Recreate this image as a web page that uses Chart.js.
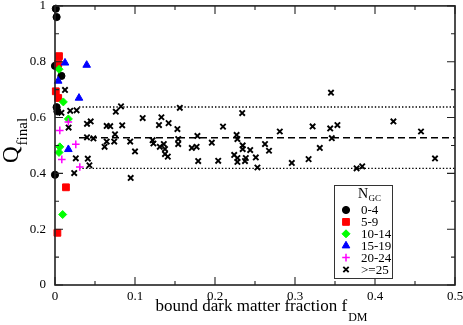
<!DOCTYPE html>
<html><head><meta charset="utf-8">
<script src="https://cdn.jsdelivr.net/npm/chart.js@4/dist/chart.umd.min.js"></script>
<style>html,body{margin:0;padding:0;background:#fff}#wrap{width:463px;height:325px}</style>
</head><body><div id="wrap"><canvas id="c" width="463" height="325"></canvas></div>
<script>
// ---- data (x = bound dark matter fraction f_DM, y = Q_final) ----
const legendLabels = ['0-4', '5-9', '10-14', '15-19', '20-24', '>=25'];
const ngc0to4 = [[0.001,0.99],[0.002,0.96],[0.0,0.785],[0.008,0.749],[0.002,0.637],[0.003,0.622],[0.0,0.395]];
const ngc5to9 = [[0.005,0.82],[0.004,0.793],[0.001,0.694],[0.004,0.67],[0.0137,0.35],[0.003,0.187]];
const ngc10to14 = [[0.005,0.773],[0.0104,0.656],[0.0167,0.595],[0.006,0.495],[0.005,0.475],[0.0096,0.2525]];
const ngc15to19 = [[0.0125,0.796],[0.0396,0.788],[0.004,0.731],[0.03,0.67],[0.0167,0.486]];
const ngc20to24 = [[0.0167,0.584],[0.006,0.554],[0.026,0.504],[0.0085,0.45],[0.031,0.423]];
const ngc25plus = [
 [0.0125,0.699],[0.008,0.617],[0.019,0.624],[0.027,0.626],[0.017,0.564],[0.04,0.5775],[0.0446,0.586],
 [0.04,0.529],[0.048,0.525],[0.026,0.454],[0.041,0.4525],[0.043,0.429],[0.024,0.401],[0.0946,0.3836],
 [0.0825,0.64],[0.076,0.621],[0.0646,0.57],[0.069,0.569],[0.084,0.572],[0.1096,0.598],[0.075,0.54],
 [0.0646,0.514],[0.074,0.514],[0.062,0.495],[0.094,0.514],[0.1,0.4786],[0.122,0.519],[0.123,0.507],
 [0.131,0.495],[0.136,0.505],[0.1375,0.487],[0.1375,0.469],[0.141,0.46],[0.154,0.523],[0.154,0.505],
 [0.171,0.491],[0.156,0.635],[0.133,0.601],[0.13,0.573],[0.142,0.58],[0.153,0.5586],[0.21,0.5675],
 [0.234,0.616],[0.281,0.55],[0.178,0.534],[0.227,0.5375],[0.228,0.523],[0.196,0.51],[0.177,0.495],
 [0.2346,0.5],[0.2346,0.487],[0.244,0.4836],[0.2625,0.505],[0.2675,0.481],[0.179,0.444],[0.204,0.445],
 [0.224,0.466],[0.228,0.455],[0.228,0.441],[0.2385,0.455],[0.2375,0.444],[0.251,0.457],[0.253,0.421],
 [0.296,0.4375],[0.317,0.451],[0.345,0.689],[0.322,0.568],[0.344,0.561],[0.353,0.573],[0.346,0.526],
 [0.423,0.586],[0.4575,0.55],[0.331,0.491],[0.377,0.418],[0.384,0.425],[0.475,0.4536]
];
const meanQ = 0.528;
const upperQ = 0.638;
const lowerQ = 0.418;
const refLineX = [0.03, 0.5];
const xTickValues = [0, 0.1, 0.2, 0.3, 0.4, 0.5];
const yTickValues = [0, 0.2, 0.4, 0.6, 0.8, 1];

const FONT = "'Liberation Serif','Times New Roman',serif";
const pts = a => a.map(p => ({x: p[0], y: p[1]}));
const hline = (yv) => refLineX.map(xv => ({x: xv, y: yv}));

const styles = [
  {pointStyle:'circle', radius:3.6, color:'#000000', bw:1},
  {pointStyle:'rect', radius:4.8, color:'#ff0000', bw:1},
  {pointStyle:'rectRot', radius:4.0, color:'#00ff00', bw:1},
  {pointStyle:'triangle', radius:4.4, color:'#0000ff', bw:1},
  {pointStyle:'cross', radius:3.8, color:'#ff00ff', bw:1.5},
  {pointStyle:'crossRot', radius:3.8, color:'#000000', bw:1.9}
];
const groups = [ngc0to4, ngc5to9, ngc10to14, ngc15to19, ngc20to24, ngc25plus];

const datasets = groups.map((g, i) => ({
  type: 'scatter', label: legendLabels[i], data: pts(g),
  pointStyle: styles[i].pointStyle, pointRadius: styles[i].radius,
  backgroundColor: styles[i].color, borderColor: styles[i].color,
  pointBorderWidth: styles[i].bw, clip: false, order: 5 - i
}));
datasets.push(
  {type:'line', label:'mean', data:hline(meanQ), borderColor:'#000', borderWidth:1.5, borderDash:[7,4], pointRadius:0, order:20, fill:false},
  {type:'line', label:'upper', data:hline(upperQ), borderColor:'#000', borderWidth:1.4, borderDash:[1.4,2], pointRadius:0, order:20, fill:false},
  {type:'line', label:'lower', data:hline(lowerQ), borderColor:'#000', borderWidth:1.4, borderDash:[1.4,2], pointRadius:0, order:20, fill:false}
);

function drawMarker(ctx, st, x, y) {
  ctx.save();
  ctx.fillStyle = st.color; ctx.strokeStyle = st.color; ctx.lineWidth = st.bw;
  const r = st.radius;
  ctx.beginPath();
  if (st.pointStyle === 'circle') { ctx.arc(x, y, r, 0, Math.PI*2); ctx.fill(); ctx.stroke(); }
  else if (st.pointStyle === 'rect') { const s = Math.SQRT1_2*r; ctx.rect(x-s, y-s, 2*s, 2*s); ctx.fill(); ctx.stroke(); }
  else if (st.pointStyle === 'rectRot') { ctx.moveTo(x-r,y); ctx.lineTo(x,y-r); ctx.lineTo(x+r,y); ctx.lineTo(x,y+r); ctx.closePath(); ctx.fill(); ctx.stroke(); }
  else if (st.pointStyle === 'triangle') {
    const s = r*Math.sqrt(3);
    ctx.moveTo(x, y - r); ctx.lineTo(x + s/2, y + r/2); ctx.lineTo(x - s/2, y + r/2); ctx.closePath(); ctx.fill(); ctx.stroke(); }
  else if (st.pointStyle === 'cross') { ctx.moveTo(x-r,y); ctx.lineTo(x+r,y); ctx.moveTo(x,y-r); ctx.lineTo(x,y+r); ctx.stroke(); }
  else { const o = r*Math.SQRT1_2; ctx.moveTo(x-o,y-o); ctx.lineTo(x+o,y+o); ctx.moveTo(x+o,y-o); ctx.lineTo(x-o,y+o); ctx.stroke(); }
  ctx.restore();
}

const decor = {
  id: 'decor',
  afterDraw(chart) {
    const {ctx, chartArea: a, scales: {x, y}} = chart;
    ctx.save();
    // ticks (inward, all four sides)
    ctx.strokeStyle = '#222'; ctx.lineWidth = 1.1;
    ctx.beginPath();
    for (let i = 0; i <= 10; i++) {
      const px = x.getPixelForValue(i * 0.05), L = i % 2 === 0 ? 8 : 4;
      ctx.moveTo(px, a.bottom); ctx.lineTo(px, a.bottom - L);
      ctx.moveTo(px, a.top); ctx.lineTo(px, a.top + L);
    }
    for (let i = 0; i <= 10; i++) {
      const py = y.getPixelForValue(i * 0.1), L = i % 2 === 0 ? 8 : 4;
      ctx.moveTo(a.left, py); ctx.lineTo(a.left + L, py);
      ctx.moveTo(a.right, py); ctx.lineTo(a.right - L, py);
    }
    ctx.stroke();
    ctx.lineWidth = 1.6;
    ctx.strokeRect(a.left, a.top, a.right - a.left, a.bottom - a.top);

    // x title with subscript
    ctx.fillStyle = '#000'; ctx.textBaseline = 'alphabetic'; ctx.textAlign = 'left';
    const main = 'bound dark matter fraction f', sub = 'DM';
    ctx.font = `17px ${FONT}`; const w1 = ctx.measureText(main).width;
    ctx.font = `12px ${FONT}`; const w2 = ctx.measureText(sub).width;
    const sx = 261 - (w1 + w2) / 2;
    ctx.font = `17px ${FONT}`; ctx.fillText(main, sx, 311);
    ctx.font = `12px ${FONT}`; ctx.fillText(sub, sx + w1 + 1, 321);

    // y title rotated with subscript
    ctx.save();
    ctx.translate(18, 163); ctx.rotate(-Math.PI / 2);
    ctx.font = `23px ${FONT}`; ctx.fillText('Q', 0, 0);
    const wq = ctx.measureText('Q').width;
    ctx.font = `15px ${FONT}`; ctx.fillText('final', wq + 1, 9);
    ctx.restore();

    // legend
    const lx = 334, ly = 185, lw = 58, lh = 93;
    ctx.fillStyle = '#fff'; ctx.fillRect(lx, ly, lw, lh);
    ctx.strokeStyle = '#333'; ctx.lineWidth = 1; ctx.strokeRect(lx + 0.5, ly + 0.5, lw, lh);
    ctx.fillStyle = '#000';
    ctx.font = `14px ${FONT}`; ctx.fillText('N', 358, 198);
    const wn = ctx.measureText('N').width;
    ctx.font = `9px ${FONT}`; ctx.fillText('GC', 358 + wn + 0.5, 201);
    ctx.font = `13px ${FONT}`; ctx.textBaseline = 'middle';
    for (let i = 0; i < 6; i++) {
      const ry = 210 + i * 11.9;
      drawMarker(ctx, styles[i], 346, ry);
      ctx.fillStyle = '#000';
      ctx.fillText(legendLabels[i], 361, ry + 1);
    }
    ctx.restore();
  }
};

new Chart(document.getElementById('c'), {
  type: 'scatter',
  data: { datasets },
  options: {
    responsive: false, animation: false, devicePixelRatio: 1,
    layout: { padding: { top: 5, right: 8, left: 0, bottom: 0 } },
    plugins: { legend: { display: false }, tooltip: { enabled: false } },
    scales: {
      x: {
        type: 'linear', min: 0, max: 0.5,
        afterFit: s => { s.height = 40; s.paddingLeft = 0; s.paddingRight = 0; },
        afterBuildTicks: s => { s.ticks = xTickValues.map(v => ({value: v})); },
        grid: { display: false, drawTicks: false }, border: { display: false },
        ticks: { padding: 4, color: '#000', font: { family: FONT, size: 13 }, maxRotation: 0,
                 callback: v => String(+v.toFixed(1)) }
      },
      y: {
        type: 'linear', min: 0, max: 1,
        afterFit: s => { s.width = 55; s.paddingTop = 0; s.paddingBottom = 0; },
        afterBuildTicks: s => { s.ticks = yTickValues.map(v => ({value: v})); },
        grid: { display: false, drawTicks: false }, border: { display: false },
        ticks: { padding: 9, color: '#000', font: { family: FONT, size: 13 },
                 callback: v => String(+v.toFixed(1)) }
      }
    }
  },
  plugins: [decor]
});
</script></body></html>
